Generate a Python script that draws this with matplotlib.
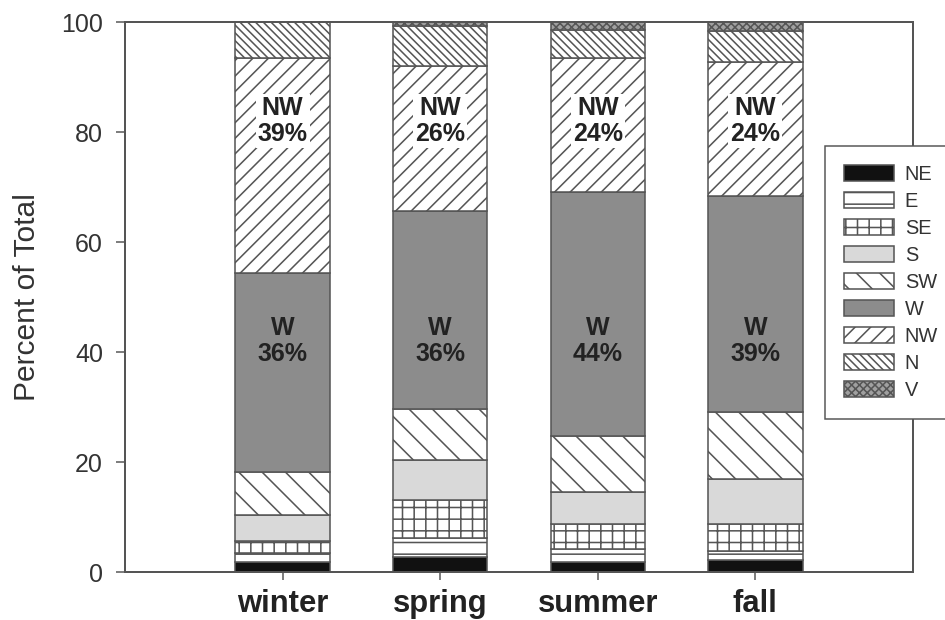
import numpy as np
import matplotlib.pyplot as plt

plt.rcParams['font.family'] = ['Liberation Sans', 'DejaVu Sans']

DPI = 140
def pt(px):
    # pixel size -> points at this dpi
    return px * 72.0 / DPI

seasons = ['winter', 'spring', 'summer', 'fall']
directions = ['NE', 'E', 'SE', 'S', 'SW', 'W', 'NW', 'N', 'V']

# percent of total per season, bottom to top
NE = [1.8, 2.8, 1.9, 2.2]
E = [1.6, 3.3, 2.3, 1.6]
SE = [2.2, 7.0, 4.5, 4.9]
S = [4.7, 7.3, 5.9, 8.3]
SW = [7.9, 9.3, 10.1, 12.1]
W = [36.1, 36.0, 44.4, 39.3]
NW = [39.2, 26.3, 24.4, 24.3]
N = [6.5, 7.3, 5.1, 5.7]
V = [0.0, 0.7, 1.4, 1.6]

series = [NE, E, SE, S, SW, W, NW, N, V]
faces = ['#111111', 'white', 'white', '#d9d9d9', 'white', '#8c8c8c', 'white', 'white', '#a0a0a0']
hatches = [None, '--', '++', None, '\\\\', None, '///', '\\\\\\\\\\\\', 'xxxxxx']

edge = '#555555'
plt.rcParams['hatch.linewidth'] = 0.8
plt.rcParams['hatch.color'] = edge

fig = plt.figure(figsize=(945 / DPI, 620 / DPI), dpi=DPI)
ax = fig.add_axes([125 / 945, 1 - 572 / 620, (913 - 125) / 945, (572 - 22) / 620])

x = np.arange(1, len(seasons) + 1)
bottom = np.zeros(len(seasons))
for name, vals, fc, h in zip(directions, series, faces, hatches):
    vals = np.array(vals)
    ax.bar(x, vals, width=0.6, bottom=bottom, color=fc, edgecolor=edge,
           linewidth=0.8, hatch=h, label=name)
    bottom += vals

# labels for the W and NW blocks
for i in range(len(seasons)):
    for name, vals, ypos in [('W', W, 42), ('NW', NW, 82)]:
        ax.text(x[i], ypos, f'{name}\n{round(vals[i])}%', ha='center', va='center',
                fontsize=pt(25), fontweight='bold', color='#222222', linespacing=1.15,
                bbox=dict(facecolor='white' if name == 'NW' else '#8c8c8c',
                          edgecolor='none', pad=1))

ax.set_xlim(0, 5)
ax.set_ylim(0, 100)
ax.set_yticks(np.arange(0, 101, 20))
ax.set_xticks(x)
ax.set_xticklabels(seasons, fontweight='bold', fontsize=pt(31), color='#222222')
ax.tick_params(axis='y', labelsize=pt(25), direction='out', length=pt(9), width=pt(1.5),
               colors=edge, labelcolor='#333333', pad=pt(13))
ax.tick_params(axis='x', direction='out', length=pt(8), width=pt(1.5), colors=edge,
               labelcolor='#222222', pad=pt(9))
ax.set_ylabel('Percent of Total', fontsize=pt(30), color='#333333', labelpad=pt(20))
for sp in ax.spines.values():
    sp.set_color(edge)
    sp.set_linewidth(pt(2))

leg = ax.legend(loc='upper left', bbox_to_anchor=(0.888, 0.775), borderaxespad=0,
                fontsize=pt(20), frameon=True, fancybox=False, framealpha=1,
                edgecolor=edge, handlelength=2.5, handleheight=0.85, handletextpad=0.55,
                labelspacing=0.4, borderpad=0.95)
leg.get_frame().set_linewidth(pt(1.5))
for t in leg.get_texts():
    t.set_color('#333333')

fig.savefig('out.png', dpi=DPI)
